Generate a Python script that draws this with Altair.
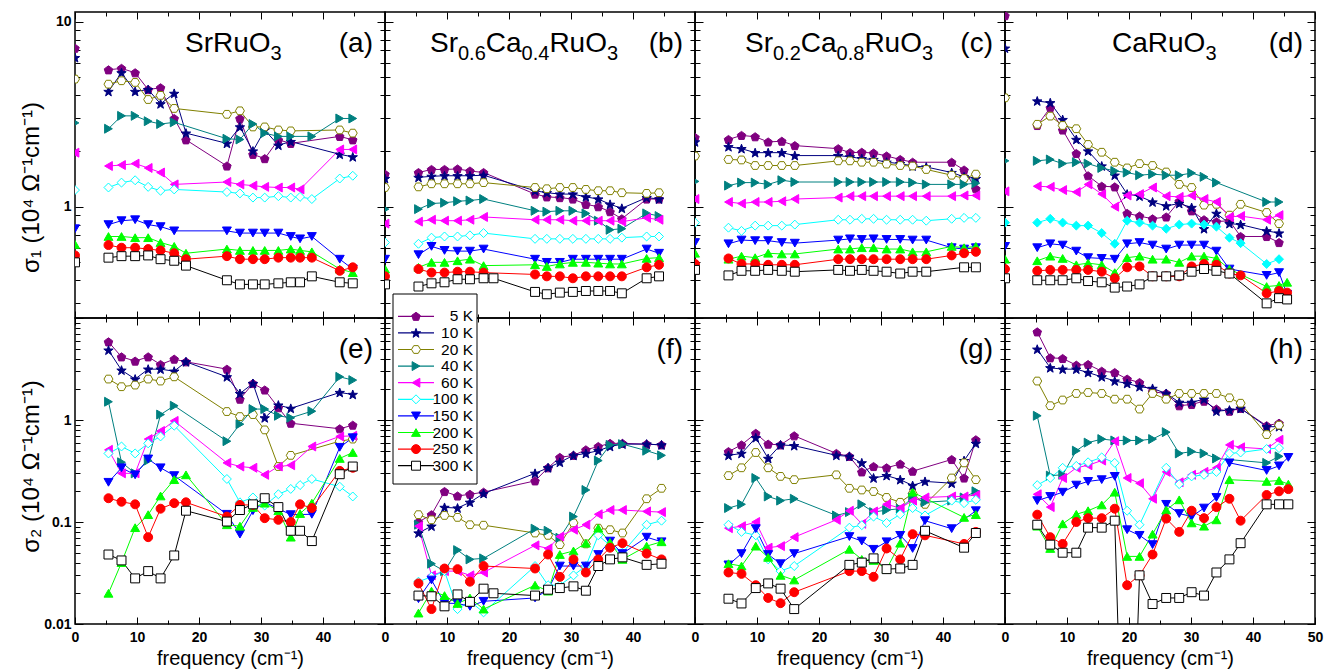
import math
import altair as alt
import pandas as pd

# ---------------- data ----------------
temps = ["5 K", "10 K", "20 K", "40 K", "60 K", "100 K", "150 K", "200 K", "250 K", "300 K"]
line_colors = ["#800080", "#000080", "#808000", "#008080", "#ff00ff",
               "#00ffff", "#0000ff", "#00ff00", "#ff0000", "#000000"]
open_marker = [False, False, True, False, False, True, False, False, False, True]

# chemical formulas: (text, is_subscript) pieces
compound_parts = [
    [("Sr", 0), ("RuO", 0), ("3", 1)],
    [("Sr", 0), ("0.6", 1), ("Ca", 0), ("0.4", 1), ("RuO", 0), ("3", 1)],
    [("Sr", 0), ("0.2", 1), ("Ca", 0), ("0.8", 1), ("RuO", 0), ("3", 1)],
    [("CaRuO", 0), ("3", 1)],
]
panel_tags = ["(a)", "(b)", "(c)", "(d)", "(e)", "(f)", "(g)", "(h)"]

x_ticks = [0, 5, 10, 15, 20, 25, 30, 35, 40, 45, 50]
x_labels_inner = [0, 10, 20, 30, 40]
x_labels_last = [0, 10, 20, 30, 40, 50]
y_ticks_top = [0.3, 0.4, 0.5, 0.6, 0.7, 0.8, 0.9, 1, 2, 3, 4, 5, 6, 7, 8, 9, 10]
y_ticks_bot = [0.01, 0.02, 0.03, 0.04, 0.05, 0.06, 0.07, 0.08, 0.09,
               0.1, 0.2, 0.3, 0.4, 0.5, 0.6, 0.7, 0.8, 0.9,
               1, 2, 3, 4, 5, 6, 7, 8, 9, 10]
y_labels_top = [1, 10]
y_labels_bot = [0.01, 0.1, 1]

# sigma_1 (top row)
f_a = [5.4, 7.5, 9.7, 11.8, 13.8, 16.0, 17.9, 24.5, 26.6, 28.7, 30.6, 32.8, 34.8, 36.3, 38.2, 42.7, 44.8]
s1_a = [
    [5.5, 5.6, 5.3, 4.3, 4.4, 3.0, 2.3, 1.66, 3.0, 1.92, 1.82, 2.3, 2.2, None, None, 2.4, 2.3],
    [4.2, 5.3, 4.2, 4.3, 3.6, 4.1, 2.5, 2.2, 2.7, 2.0, 2.6, 2.15, 2.25, None, None, 1.92, 1.86],
    [4.6, 4.8, 4.7, 3.8, 4.0, 3.4, None, 3.16, 3.3, 2.7, 2.7, 2.6, 2.57, None, None, 2.6, 2.5],
    [2.64, 3.1, 3.1, 2.9, 2.8, 2.86, None, 2.33, 2.31, 2.8, 2.5, 2.4, 2.4, None, 2.4, 3.0, 3.0],
    [1.66, 1.68, 1.71, 1.62, 1.53, 1.32, None, 1.36, 1.32, 1.30, 1.28, 1.27, 1.27, 1.24, None, 2.04, 2.04],
    [1.27, 1.35, 1.39, 1.28, 1.22, 1.24, None, 1.20, 1.18, 1.12, 1.12, 1.14, 1.12, 1.13, 1.10, 1.42, 1.47],
    [0.80, 0.84, 0.85, 0.80, 0.78, 0.74, None, 0.74, 0.72, 0.72, 0.72, 0.72, 0.69, 0.67, 0.69, 0.52, 0.46],
    [0.69, 0.69, 0.68, 0.68, 0.64, 0.61, 0.56, 0.59, 0.58, 0.58, 0.58, 0.58, 0.59, 0.58, 0.57, 0.46, 0.44],
    [0.62, 0.60, 0.60, 0.59, 0.58, 0.56, 0.52, 0.54, 0.52, 0.52, 0.52, 0.53, 0.53, 0.53, 0.53, 0.45, 0.47],
    [0.53, 0.54, 0.54, 0.545, 0.52, 0.51, 0.48, 0.40, 0.38, 0.38, 0.38, 0.385, 0.39, 0.39, 0.42, 0.39, 0.385],
]
dc_a = [7.2, 6.4, 4.9, 2.84, 1.96, 1.23, 0.76, 0.625, 0.545, 0.50]

f_b = [5.4, 7.5, 9.6, 11.7, 13.7, 15.9, 17.5, 24.2, 26.1, 28.2, 30.3, 32.4, 34.4, 36.3, 38.2, 42.2, 44.2]
s1_b = [
    [1.53, 1.59, 1.59, 1.60, 1.56, 1.53, None, 1.17, 1.13, 1.12, 1.10, 1.03, 1.0, 0.94, 0.86, 1.10, 1.10],
    [1.44, 1.46, 1.47, 1.47, 1.47, 1.48, None, 1.22, 1.19, 1.17, 1.17, 1.13, 1.10, 1.03, 0.98, 1.12, 1.10],
    [1.28, 1.33, 1.33, 1.33, 1.33, 1.35, None, 1.27, 1.25, 1.27, 1.27, 1.24, 1.22, 1.22, 1.19, 1.18, 1.19],
    [0.97, 1.04, 1.05, 1.07, 1.08, 1.10, None, 0.95, 0.94, 0.95, 0.95, 0.92, 0.84, 0.75, 0.76, 0.92, 0.89],
    [0.83, 0.85, 0.84, 0.84, 0.85, 0.88, None, 0.85, 0.85, 0.85, 0.84, 0.84, 0.84, 0.84, 0.83, 0.87, 0.85],
    [0.63, 0.68, 0.69, 0.69, 0.70, 0.72, None, 0.67, 0.67, 0.67, 0.67, 0.67, 0.67, 0.67, 0.68, 0.69, 0.69],
    [0.55, 0.61, 0.58, 0.575, 0.575, 0.59, None, 0.52, 0.50, 0.50, 0.52, 0.52, 0.52, 0.52, 0.52, 0.59, 0.56],
    [0.47, 0.50, 0.50, 0.51, 0.52, 0.48, None, 0.485, 0.475, 0.49, 0.50, 0.50, 0.495, 0.49, 0.49, 0.525, 0.53],
    [0.46, 0.44, 0.44, 0.445, 0.445, 0.44, None, 0.43, 0.42, 0.42, 0.41, 0.42, 0.42, 0.42, 0.42, 0.47, 0.485],
    [0.37, 0.385, 0.39, 0.405, 0.405, 0.41, 0.41, 0.346, 0.336, 0.343, 0.346, 0.35, 0.35, 0.35, 0.34, 0.41, 0.42],
]
dc_b = [1.50, 1.42, 1.27, 0.97, 0.81, 0.64, 0.52, 0.46, 0.42, 0.38]

f_c = [5.4, 7.5, 9.7, 11.8, 14.0, 16.1, 23.1, 25.0, 26.9, 28.8, 30.9, 33.1, 35.1, 37.3, 41.4, 43.4, 45.3]
s1_c = [
    [2.31, 2.43, 2.39, 2.24, 2.26, 2.14, 2.06, 1.96, 1.97, 1.95, 1.88, 1.80, 1.74, None, 1.74, 1.58, 1.25],
    [2.11, 2.06, 1.96, 1.96, 1.96, 1.89, 1.89, 1.86, 1.82, 1.80, 1.74, 1.71, 1.66, 1.64, 1.53, 1.45, 1.42],
    [1.80, 1.79, 1.67, 1.67, 1.67, 1.67, 1.77, 1.77, 1.74, 1.74, 1.70, 1.67, 1.66, 1.59, 1.48, 1.42, 1.50],
    [1.30, 1.35, 1.35, 1.32, 1.39, 1.36, 1.36, 1.36, 1.36, 1.36, 1.36, 1.36, 1.35, 1.32, 1.32, 1.32, 1.34],
    [1.06, 1.04, 1.06, 1.06, 1.07, 1.10, 1.12, 1.14, 1.14, 1.14, 1.14, 1.14, 1.14, 1.14, 1.14, 1.15, 1.15],
    [0.77, 0.74, 0.79, 0.79, 0.79, 0.80, 0.85, 0.85, 0.86, 0.86, 0.85, 0.85, 0.85, 0.84, 0.86, 0.87, 0.87],
    [0.63, 0.66, 0.655, 0.655, 0.64, 0.635, 0.66, 0.67, 0.665, 0.67, 0.665, 0.665, 0.66, 0.66, 0.60, 0.59, 0.60],
    [0.52, 0.54, 0.53, 0.56, 0.555, 0.555, 0.59, 0.59, 0.60, 0.60, 0.59, 0.59, 0.57, 0.57, 0.61, 0.60, 0.61],
    [0.525, 0.49, 0.49, 0.485, 0.485, 0.485, 0.52, 0.52, 0.52, 0.52, 0.52, 0.52, 0.52, 0.52, 0.545, 0.56, 0.57],
    [0.425, 0.45, 0.45, 0.455, 0.45, 0.445, 0.455, 0.45, 0.455, 0.45, 0.445, 0.435, 0.445, 0.445, None, 0.47, 0.47],
]
dc_c = [2.37, 2.24, 1.88, 1.37, 1.10, 0.82, 0.64, 0.56, 0.49, 0.455]

f_d = [5.2, 7.3, 9.3, 11.5, 13.4, 15.6, 17.7, 19.7, 21.7, 23.8, 26.0, 28.1, 30.1, 32.1, 34.1, 36.2, 38.0, 42.2, 44.2, 45.5]
s1_d = [
    [2.75, 3.43, 2.60, 1.94, 1.47, 1.29, 1.28, 0.92, 0.89, 0.86, 0.88, 1.07, 0.95, 0.85, 0.83, 0.84, 0.69, 0.69, 0.64, None],
    [3.73, 3.65, 2.96, 2.31, 2.00, 1.66, 1.48, 1.17, 1.14, 1.06, 1.01, 1.04, 0.99, 0.76, 0.92, 0.81, 0.80, 0.74, 0.72, None],
    [2.79, 3.09, 2.75, 2.64, 2.17, 1.97, 1.74, 1.62, 1.71, 1.67, 1.54, 1.32, 1.27, 1.02, 1.03, 0.90, 1.03, 0.93, 0.81, None],
    [1.77, 1.80, 1.71, 1.74, 1.71, 1.62, 1.56, 1.53, 1.48, 1.50, 1.48, 1.48, 1.52, 1.45, 1.35, None, None, 1.06, 1.06, None],
    [1.29, 1.28, 1.23, 1.20, 1.32, 1.17, 1.00, 1.15, 1.17, 1.27, 1.14, 1.13, 1.15, 1.10, 1.06, 0.88, 0.89, 0.85, 0.90, None],
    [0.82, 0.86, 0.82, 0.79, 0.79, 0.72, 0.63, 0.84, 0.82, 0.79, 0.76, 0.80, 0.81, 0.80, 0.78, 0.68, 0.635, 0.49, 0.52, None],
    [0.60, 0.63, 0.62, 0.575, 0.53, 0.525, 0.52, 0.63, 0.64, 0.62, 0.59, 0.62, 0.62, 0.62, 0.575, 0.46, None, 0.425, 0.44, 0.336],
    [0.51, 0.54, 0.525, 0.485, 0.495, 0.485, 0.44, 0.53, 0.54, 0.52, 0.52, 0.50, 0.54, 0.54, 0.525, 0.46, 0.43, 0.37, 0.375, 0.39],
    [0.45, 0.455, 0.455, 0.455, 0.455, 0.445, 0.41, 0.47, 0.475, 0.42, 0.42, 0.42, 0.475, 0.49, 0.485, 0.435, 0.425, 0.34, 0.35, 0.343],
    [0.40, 0.40, 0.40, 0.41, 0.396, 0.39, 0.365, 0.37, 0.38, 0.42, 0.42, 0.425, 0.445, 0.46, 0.45, 0.435, None, 0.30, 0.32, 0.315],
]
dc_d = [10.8, 7.2, 3.88, 1.77, 1.21, 0.82, 0.61, 0.52, 0.46, 0.41]

# sigma_2 (bottom row)
f_e = [5.4, 7.5, 9.7, 11.8, 13.8, 16.0, 17.9, 24.5, 26.6, 28.7, 30.6, 32.8, 34.8, 36.3, 38.2, 42.7, 44.8]
s2_e = [
    [5.84, 4.16, 3.78, 4.16, 3.50, 3.95, 3.72, 3.15, 1.60, 2.28, 1.97, 1.32, 0.93, None, None, 0.82, 0.89],
    [4.84, 3.08, 2.52, 3.15, 3.15, 3.01, 3.72, 2.65, 1.82, 2.28, 1.05, 1.40, 1.30, None, None, 1.86, 1.78],
    [2.52, 2.12, 2.20, 2.52, 2.41, 2.65, None, 1.21, 1.08, 1.13, 0.80, 0.35, 0.45, None, None, 0.62, 0.65],
    [1.51, 0.385, 0.30, 0.40, 1.13, 1.38, None, 0.62, 0.91, 1.28, 1.28, 1.10, 1.05, None, 1.22, 2.65, 2.46],
    [0.51, 0.30, 0.30, 0.65, 0.78, 0.98, None, 0.38, 0.35, 0.34, 0.29, 0.35, 0.36, None, 0.55, 0.69, 0.70],
    [0.47, 0.55, 0.47, 0.59, 0.69, 0.88, None, 0.264, 0.156, 0.174, 0.145, 0.187, 0.211, 0.23, 0.264, 0.222, 0.178],
    [0.245, 0.34, 0.29, 0.415, 0.34, 0.285, None, 0.119, 0.076, 0.129, 0.156, 0.135, 0.118, None, 0.119, 0.54, 0.67],
    [0.020, 0.040, 0.088, 0.118, 0.18, 0.26, 0.29, 0.094, 0.091, 0.139, 0.153, 0.129, 0.071, 0.121, 0.153, 0.42, 0.48],
    [0.171, 0.158, 0.149, 0.071, 0.135, 0.153, 0.156, 0.113, 0.147, 0.147, 0.109, 0.105, 0.100, 0.149, 0.137, 0.317, 0.34],
    [0.048, 0.042, 0.028, 0.033, 0.028, 0.047, 0.129, 0.101, 0.131, 0.149, 0.171, 0.14, 0.082, 0.082, 0.065, 0.294, 0.35],
]

f_f = [5.4, 7.5, 9.6, 11.7, 13.7, 15.9, 17.5, 24.2, 26.3, 28.2, 30.4, 32.4, 34.4, 36.3, 38.3, 42.2, 44.6]
s2_f = [
    [0.100, 0.118, 0.199, 0.18, 0.187, 0.196, None, 0.253, 0.34, 0.43, 0.45, 0.51, 0.55, 0.59, 0.59, 0.58, 0.57],
    [0.078, 0.091, 0.139, 0.137, 0.156, 0.19, None, 0.30, 0.34, 0.385, 0.45, 0.47, 0.50, 0.55, 0.58, 0.58, 0.57],
    [0.118, 0.105, 0.116, 0.111, 0.094, 0.093, None, 0.078, 0.074, 0.060, 0.098, 0.061, 0.087, 0.084, 0.078, 0.169, 0.214],
    [0.094, 0.039, 0.033, 0.053, 0.043, 0.044, None, 0.086, 0.082, 0.070, 0.113, 0.206, 0.40, 0.57, 0.58, 0.50, 0.45],
    [0.091, 0.030, 0.033, 0.033, 0.030, 0.032, None, 0.059, 0.055, 0.072, 0.084, 0.094, 0.119, 0.131, 0.131, 0.127, 0.125],
    [0.026, 0.029, 0.033, 0.014, 0.0167, 0.013, None, 0.037, 0.024, 0.024, 0.030, 0.037, 0.074, 0.059, 0.050, 0.094, 0.103],
    [0.0177, 0.027, 0.016, 0.0159, 0.0149, 0.0167, None, 0.018, 0.0217, 0.037, 0.037, 0.037, 0.048, 0.065, 0.049, 0.071, 0.064],
    [0.0128, 0.021, 0.019, 0.0159, 0.018, 0.014, None, 0.024, 0.021, 0.048, 0.052, 0.062, 0.087, 0.063, 0.043, 0.058, 0.064],
    [0.025, 0.014, 0.035, 0.0345, 0.026, 0.037, None, 0.035, 0.048, 0.029, 0.043, 0.032, 0.043, 0.056, 0.062, 0.049, 0.043],
    [0.019, 0.0187, 0.0149, 0.0195, 0.0165, 0.0222, 0.020, 0.019, 0.0217, 0.0225, 0.0234, 0.0212, 0.037, 0.043, 0.045, 0.038, 0.039],
]

f_g = [5.4, 7.5, 9.8, 11.8, 13.8, 16.0, 22.8, 24.9, 26.9, 28.8, 30.9, 33.1, 35.1, 37.1, 41.4, 43.4, 45.3]
s2_g = [
    [0.49, 0.57, 0.74, 0.58, 0.57, 0.70, 0.47, 0.44, 0.31, 0.35, 0.34, 0.37, 0.315, None, 0.41, 0.27, 0.64],
    [0.45, 0.47, 0.67, 0.42, 0.57, 0.56, 0.45, 0.44, 0.38, 0.27, 0.285, 0.26, 0.228, 0.25, 0.24, 0.40, 0.59],
    [0.285, 0.34, 0.48, 0.34, 0.28, 0.26, 0.29, 0.214, 0.206, 0.199, 0.174, 0.156, 0.19, 0.149, 0.27, 0.38, 0.26],
    [0.137, 0.149, 0.27, 0.178, 0.162, 0.169, 0.116, 0.125, 0.149, 0.125, 0.131, 0.135, 0.174, 0.156, 0.162, 0.174, 0.20],
    [0.087, 0.091, 0.100, 0.056, 0.058, 0.071, 0.105, 0.129, 0.096, 0.127, 0.149, 0.137, 0.162, 0.174, 0.178, 0.178, 0.184],
    [0.094, 0.080, 0.074, 0.043, 0.033, 0.037, None, 0.088, 0.093, 0.113, 0.098, 0.119, 0.137, 0.116, 0.162, 0.153, 0.165],
    [0.038, 0.049, 0.086, 0.048, 0.039, 0.049, None, 0.072, 0.065, 0.054, 0.064, 0.074, 0.055, 0.103, 0.086, None, 0.129],
    [0.039, 0.037, 0.058, 0.045, 0.030, 0.027, None, 0.054, 0.043, 0.042, 0.0345, 0.062, 0.196, None, None, 0.111, 0.118],
    [0.032, 0.031, 0.024, 0.018, 0.016, 0.0205, None, 0.033, 0.033, 0.029, 0.055, 0.043, 0.076, 0.074, None, 0.061, 0.080],
    [0.0177, 0.0159, 0.0225, 0.025, 0.0222, 0.014, None, 0.038, 0.040, 0.044, 0.0345, 0.035, 0.038, 0.082, None, 0.056, 0.078],
]

f_h = [5.2, 7.3, 9.3, 11.5, 13.4, 15.6, 17.7, 19.7, 21.7, 23.8, 26.0, 28.1, 30.1, 32.1, 34.1, 36.2, 38.0, 42.2, 44.2, 45.7]
s2_h = [
    [7.31, 4.07, 4.01, 3.45, 3.50, 3.01, 2.92, 2.52, 2.33, 1.89, 1.82, 1.38, 1.42, 1.53, 1.28, 1.22, 1.30, 0.88, 0.93, None],
    [4.94, 3.25, 3.15, 3.15, 2.92, 2.65, 2.41, 2.28, 2.12, 2.04, 1.82, 1.49, 1.49, 1.60, 1.22, 1.25, 1.30, 0.86, 0.86, None],
    [2.41, 1.38, 1.57, 1.82, 1.86, 1.82, 1.60, 1.60, 1.28, 1.82, 1.60, 1.82, 1.82, 1.82, 1.82, 1.65, 1.46, 0.72, 0.89, None],
    [1.10, 0.285, 0.29, 0.50, 0.60, 0.65, 0.63, 0.63, 0.63, 0.65, 0.76, 0.47, 0.49, 0.47, 0.42, None, None, 0.38, 0.44, None],
    [0.187, 0.14, 0.27, 0.34, 0.36, 0.40, 0.62, 0.27, 0.24, 0.169, 0.31, 0.245, 0.29, 0.31, 0.34, 0.57, 0.54, 0.52, 0.64, None],
    [0.23, 0.27, 0.34, 0.355, 0.385, 0.43, 0.38, 0.129, 0.094, None, 0.34, 0.235, 0.28, 0.29, 0.31, 0.47, 0.48, 0.52, 0.53, None],
    [0.162, 0.178, 0.196, 0.23, 0.25, 0.26, 0.28, 0.084, 0.074, 0.060, 0.149, 0.121, 0.113, 0.137, 0.174, 0.38, None, 0.32, 0.355, 0.43],
    [0.091, 0.055, 0.096, 0.119, 0.129, 0.147, 0.196, 0.046, 0.046, 0.076, 0.131, 0.165, 0.098, 0.091, 0.105, 0.26, None, 0.25, 0.255, 0.235],
    [0.118, 0.071, 0.061, 0.100, 0.109, 0.109, 0.135, 0.024, 0.030, 0.048, 0.108, 0.080, 0.129, 0.109, 0.14, 0.169, 0.103, 0.184, 0.20, 0.21],
    [0.094, 0.060, 0.050, 0.050, 0.088, 0.088, 0.103, 0.00001, 0.030, 0.0157, 0.018, 0.018, 0.0205, 0.019, 0.032, 0.043, 0.062, 0.149, 0.149, 0.149],
]

# ---------------- styling helpers ----------------
FONT = "Liberation Sans"
PW, PH = 310, 306
MAIN_FS, SUB_FS = 28, 20
# Liberation Sans (Arial-metric) advance widths, per 1000 em
GLYPH_W = {"S": 667, "r": 333, "R": 722, "u": 556, "O": 778, "C": 722, "a": 556, ".": 278}


def text_w(s, fs):
    return sum(GLYPH_W.get(ch, 556) for ch in s) * fs / 1000.0


def poly(points):
    return "M" + "L".join(f"{x:.3f},{y:.3f}" for x, y in points) + "Z"


def regular(n, r_out, r_in=None, rot=-90.0, dy=0.0):
    pts = []
    k = n * 2 if r_in else n
    for i in range(k):
        ang = math.radians(rot + 360.0 * i / k)
        r = r_out if (r_in is None or i % 2 == 0) else r_in
        pts.append((r * math.cos(ang), r * math.sin(ang) + dy))
    return poly(pts)


pentagon = regular(5, 1.0, dy=0.1)
star = regular(5, 1.1, 0.45, dy=0.1)
hexagon = regular(6, 1.0, rot=0.0)
shape_paths = [pentagon, star, hexagon, "triangle-right", "triangle-left",
               "diamond", "triangle-down", "triangle-up", "circle", "square"]

fill_domain = temps + ["100 K solid"]
fill_range = [("#ffffff" if o else c) for c, o in zip(line_colors, open_marker)] + ["#00ffff"]

stroke_enc = alt.Stroke("temp:N", scale=alt.Scale(domain=temps, range=line_colors), legend=None)
shape_enc = alt.Shape("temp:N", scale=alt.Scale(domain=temps, range=shape_paths), legend=None)
fill_enc = alt.Fill("fkey:N", scale=alt.Scale(domain=fill_domain, range=fill_range), legend=None)

Y_MAJOR = "abs(log(datum.value)/LN10 - round(log(datum.value)/LN10)) < 0.001"
X_MAJOR = "datum.value % 10 == 0"


def tick_len(test, major, minor):
    return {"expr": f"({test}) ? {-major} : {-minor}"}


def in_list_expr(vals):
    arr = "[" + ",".join(str(v) for v in vals) + "]"
    return f"indexof({arr}, datum.value) >= 0 ? datum.label : ''"


def y_label_expr(vals):
    parts = " : ".join(f"datum.value == {v} ? '{v}'" for v in vals)
    return parts + " : ''"


def table_df(freqs, table, panel_key):
    rows = []
    for t, vals in zip(temps, table):
        for f, v in zip(freqs, vals):
            if v is not None:
                fk = "100 K solid" if (panel_key == "d" and t == "100 K") else t
                rows.append({"freq": f, "value": v, "temp": t, "fkey": fk})
    return pd.DataFrame(rows)


def dc_df(dc, panel_key):
    rows = []
    for t, v in zip(temps, dc):
        fk = "100 K solid" if (panel_key == "d" and t == "100 K") else t
        rows.append({"freq": 0.0, "value": v, "temp": t, "fkey": fk})
    return pd.DataFrame(rows)


def formula_layers(parts, x0, base_y):
    out = []
    x = x0
    for txt, sub in parts:
        fs = SUB_FS if sub else MAIN_FS
        yy = base_y + (8 if sub else 0)
        out.append(alt.Chart(pd.DataFrame({"t": [txt]})).mark_text(
            font=FONT, fontSize=fs, align="left", baseline="alphabetic", color="black"
        ).encode(text="t:N", x=alt.value(round(x, 1)), y=alt.value(yy)))
        x += text_w(txt, fs)
    return out


def panel(idx, freqs, table, dc, row, col):
    key = "abcdefgh"[idx]
    ac = table_df(freqs, table, key)
    pts = pd.concat([ac, dc_df(dc, key)]) if dc is not None else ac

    if row == 0:
        ydom, yvals, ylab = [0.25, 11.3], y_ticks_top, y_labels_top
        ytitle, ty = "σ₁ (10⁴ Ω⁻¹cm⁻¹)", 175
    else:
        ydom, yvals, ylab = [0.01, 10], y_ticks_bot, y_labels_bot
        ytitle, ty = "σ₂ (10⁴ Ω⁻¹cm⁻¹)", 148
    xlab = x_labels_last if col == 3 else x_labels_inner

    xscale = alt.Scale(domain=[0, 50], nice=False, zero=False)
    yscale = alt.Scale(type="log", domain=ydom, nice=False)

    x_axis = alt.Axis(orient="bottom", values=x_ticks, labels=(row == 1),
                      labelExpr=in_list_expr(xlab), tickSize=tick_len(X_MAJOR, 7, 4),
                      labelPadding=13, domain=False, grid=False, labelFlush=False,
                      labelOverlap=False, titlePadding=1, titleFontSize=20)
    y_axis = alt.Axis(orient="left", values=yvals, labels=(col == 0),
                      labelExpr=y_label_expr(ylab), tickSize=tick_len(Y_MAJOR, 8, 5),
                      labelPadding=12, domain=False, grid=False, labelFlush=False,
                      labelOverlap=False, titleFontSize=24, titleX=-44, titleY=ty,
                      titleAngle=270, titleAlign="center", titleBaseline="middle")
    x_top = alt.Axis(orient="top", values=x_ticks, labels=False, tickSize=tick_len(X_MAJOR, 7, 4),
                     domain=False, grid=False)
    y_right = alt.Axis(orient="right", values=yvals, labels=False, tickSize=tick_len(Y_MAJOR, 8, 5),
                       domain=False, grid=False)

    if row == 1:
        X_main = alt.X("freq:Q", scale=xscale, axis=x_axis, title="frequency (cm⁻¹)")
    else:
        X_main = alt.X("freq:Q", scale=xscale, axis=x_axis, title=None)
    if col == 0:
        Y_main = alt.Y("value:Q", scale=yscale, axis=y_axis, title=ytitle)
    else:
        Y_main = alt.Y("value:Q", scale=yscale, axis=y_axis, title=None)

    lines = alt.Chart(ac).mark_line(strokeWidth=1, clip=True).encode(
        x=X_main, y=Y_main, stroke=stroke_enc)
    marks = alt.Chart(pts).mark_point(size=80, strokeWidth=1, opacity=1, fillOpacity=1, clip=True).encode(
        x=alt.X("freq:Q", scale=xscale, axis=None),
        y=alt.Y("value:Q", scale=yscale, axis=None),
        stroke=stroke_enc, shape=shape_enc, fill=fill_enc)
    mirror = alt.Chart(ac).mark_point(opacity=0).encode(
        x=alt.X("freq:Q", scale=xscale, axis=x_top, title=None),
        y=alt.Y("value:Q", scale=yscale, axis=y_right, title=None))

    layers = [lines, marks, mirror]
    tag = alt.Chart(pd.DataFrame({"t": [panel_tags[idx]]})).mark_text(
        font=FONT, fontSize=MAIN_FS, align="right", baseline="alphabetic", color="black"
    ).encode(text="t:N", x=alt.value(298), y=alt.value(40))
    layers.append(tag)
    if row == 0:
        x0 = [110, 45, 50, 107][col]
        layers.extend(formula_layers(compound_parts[col], x0, 40))

    core = alt.layer(*layers).resolve_axis(x="independent", y="independent")

    if idx == 5:
        leg_df = pd.DataFrame({"temp": temps, "fkey": temps})
        ly = alt.Y("temp:N", scale=alt.Scale(domain=temps, range=[-10, 156], padding=0), axis=None)
        box = alt.Chart(pd.DataFrame({"b": [0]})).mark_rect(
            fill="white", stroke="black", strokeWidth=1).encode(
            x=alt.value(8), x2=alt.value(92), y=alt.value(-24), y2=alt.value(166))
        lrule = alt.Chart(leg_df).mark_rule(strokeWidth=1.2).encode(
            x=alt.value(13), x2=alt.value(49), y=ly, stroke=stroke_enc)
        lpt = alt.Chart(leg_df).mark_point(size=80, strokeWidth=1, opacity=1, fillOpacity=1).encode(
            x=alt.value(31), y=ly, stroke=stroke_enc, shape=shape_enc, fill=fill_enc)
        ltxt = alt.Chart(leg_df).mark_text(font=FONT, fontSize=15.5, align="right",
                                           baseline="middle", color="black").encode(
            x=alt.value(88), y=ly, text="temp:N")
        legend = alt.layer(box, lrule, lpt, ltxt)
        return alt.layer(core, legend).resolve_scale(y="independent").properties(width=PW, height=PH)
    return core.properties(width=PW, height=PH)


panels = [panel(0, f_a, s1_a, dc_a, 0, 0), panel(1, f_b, s1_b, dc_b, 0, 1),
          panel(2, f_c, s1_c, dc_c, 0, 2), panel(3, f_d, s1_d, dc_d, 0, 3),
          panel(4, f_e, s2_e, None, 1, 0), panel(5, f_f, s2_f, None, 1, 1),
          panel(6, f_g, s2_g, None, 1, 2), panel(7, f_h, s2_h, None, 1, 3)]

chart = alt.concat(*panels, columns=4, spacing=0, bounds="flush").properties(
    padding={"left": 18, "top": 10, "right": 5, "bottom": 2},
    background="white",
).configure_view(
    stroke="black", strokeWidth=1.5
).configure_axis(
    labelFont=FONT, labelFontSize=14, labelFontWeight="bold", labelColor="black",
    titleFont=FONT, titleFontWeight="normal", titleColor="black",
    tickColor="black", tickWidth=1,
)

chart.save("out.html", embed_options={"renderer": "svg", "actions": False})
